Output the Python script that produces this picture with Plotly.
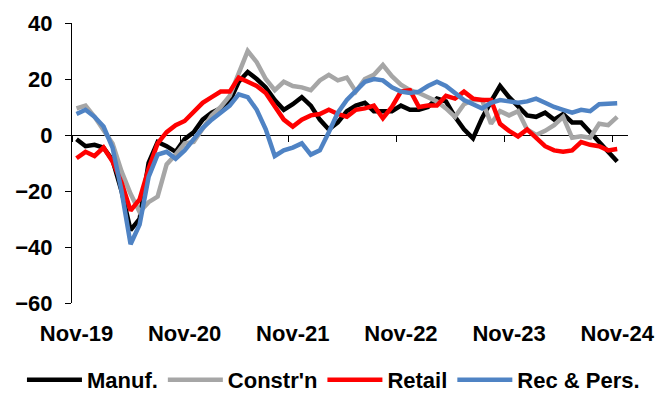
import plotly.graph_objects as go

# Monthly survey balances, Nov-19 .. Nov-24
months = [
    "Nov-19", "Dec-19", "Jan-20", "Feb-20", "Mar-20", "Apr-20", "May-20", "Jun-20", "Jul-20", "Aug-20",
    "Sep-20", "Oct-20", "Nov-20", "Dec-20", "Jan-21", "Feb-21", "Mar-21", "Apr-21", "May-21", "Jun-21",
    "Jul-21", "Aug-21", "Sep-21", "Oct-21", "Nov-21", "Dec-21", "Jan-22", "Feb-22", "Mar-22", "Apr-22",
    "May-22", "Jun-22", "Jul-22", "Aug-22", "Sep-22", "Oct-22", "Nov-22", "Dec-22", "Jan-23", "Feb-23",
    "Mar-23", "Apr-23", "May-23", "Jun-23", "Jul-23", "Aug-23", "Sep-23", "Oct-23", "Nov-23", "Dec-23",
    "Jan-24", "Feb-24", "Mar-24", "Apr-24", "May-24", "Jun-24", "Jul-24", "Aug-24", "Sep-24", "Oct-24",
    "Nov-24",
]

manuf = [
    -1.5, -4, -3.5, -4.5, -9, -20, -34, -30, -10, -2.5,
    -4, -6, -1.5, 1, 5.5, 8, 9.5, 12, 19, 22.5,
    20, 17, 12.5, 9, 11, 13.5, 10.5, 5.5, 2, 4.5,
    8.5, 10.5, 11.5, 8.5, 8.5, 8.5, 10.5, 9, 9, 10,
    13, 12, 6.5, 2, -1.2, 6, 12, 17.5, 13.5, 10,
    7, 6.5, 8, 5.5, 7.5, 4.5, 4.5, 1, -2.5, -6.5,
    -9.5,
]

constr = [
    9.5, 10.5, 6.5, 1.5, -3, -13, -21, -27.5, -24, -22,
    -10.5, -7, -3, -2.5, 2.5, 7, 10, 14, 22, 30,
    26, 20, 16, 19, 17.5, 17, 16, 19.5, 21.5, 19.5,
    20.5, 15.5, 20, 21.5, 25, 21, 18, 16, 15, 13.5,
    12, 9.5, 6.5, 11, 12.5, 12.5, 4, 8.5, 7, 8.5,
    2, 0, 1.5, 3.5, 6.5, -1, -0.5, -1, 4, 3.5,
    6.5,
]

retail = [
    -8.3, -6, -7.5, -4.5, -9.5, -17, -27, -23, -12, -3,
    1, 3.5, 5, 8, 11.5, 13.5, 15.5, 15.5, 20.5, 19,
    17.5, 15, 10, 5.5, 3, 5.5, 7, 7.5, 9, 7.5,
    6.5, 9, 9.5, 10.5, 6, 10, 15.5, 16, 10, 10.5,
    10.5, 14, 13, 15.5, 13, 12.5, 12.5, 4, 1.5, -0.5,
    2, -1, -4, -5.5, -6, -5.5, -2.5, -3.5, -4, -5.5,
    -5,
]

rec_pers = [
    7.5, 9, 6.5, 3, -4.5, -20, -39, -32, -15, -7,
    -6, -8.5, -5.5, -1.5, 2.5, 5.5, 8, 10.5, 14.5, 13.5,
    9, 2, -7.5, -5.5, -4.5, -3, -7, -5.5, 1, 8,
    12.5, 15.5, 19, 20, 19.5, 17, 15.5, 15, 15.5, 17.5,
    19, 17.5, 15, 12.5, 11, 9.5, 11.5, 12.5, 12, 11.5,
    12, 13, 11.5, 10, 9, 8, 9, 8.5, 11, 11.3,
    11.3,
]

series = [
    ("Manuf.", manuf, "#000000"),
    ("Constr'n", constr, "#A6A6A6"),
    ("Retail", retail, "#FF0000"),
    ("Rec & Pers.", rec_pers, "#4F83C4"),
]

y_ticks = [40, 20, 0, -20, -40, -60]
label_idx = list(range(0, len(months), 12))

x = list(range(len(months)))
x_range = [-0.5, 61.2]
font_family = "Liberation Sans, Arial, sans-serif"
bold = dict(family=font_family, size=22, color="#000000", weight="bold")

fig = go.Figure()
for name, vals, color in series:
    fig.add_trace(go.Scatter(
        x=x, y=vals, name=name, mode="lines",
        line=dict(color=color, width=4.5),
    ))

# empty trace so the zero-line axis (x2) is drawn
fig.add_trace(go.Scatter(x=[], y=[], xaxis="x2", yaxis="y",
                         showlegend=False, hoverinfo="skip"))

fig.update_layout(
    width=670, height=397,
    margin=dict(l=72, r=42, t=23, b=94, autoexpand=False),
    paper_bgcolor="white", plot_bgcolor="white",
    showlegend=True,
    xaxis=dict(
        range=x_range,
        tickmode="array",
        tickvals=label_idx,
        ticktext=[months[i] for i in label_idx],
        showline=False, ticks="", showgrid=False, zeroline=False,
        tickfont=bold,
        ticklabelstandoff=15,
    ),
    xaxis2=dict(
        range=x_range,
        overlaying="x", anchor="free", position=0.6, side="bottom",
        tickmode="array",
        tickvals=[i - 0.5 for i in label_idx],
        ticks="outside", ticklen=6, tickcolor="#000000", tickwidth=1,
        showline=True, linecolor="#000000", linewidth=1,
        showticklabels=False, showgrid=False, zeroline=False,
        layer="below traces",
    ),
    yaxis=dict(
        range=[-60, 40],
        tickmode="array", tickvals=y_ticks,
        ticks="outside", ticklen=6, tickcolor="#000000", tickwidth=1,
        showline=True, linecolor="#000000", linewidth=1,
        showgrid=False, zeroline=False,
        tickfont=bold,
        ticklabelstandoff=8,
        layer="below traces",
    ),
    legend=dict(
        orientation="h",
        x=-0.09, xanchor="left",
        y=-0.275, yanchor="middle",
        font=bold,
        itemwidth=55,
        bgcolor="rgba(0,0,0,0)",
    ),
)

fig.write_html("out.html")
